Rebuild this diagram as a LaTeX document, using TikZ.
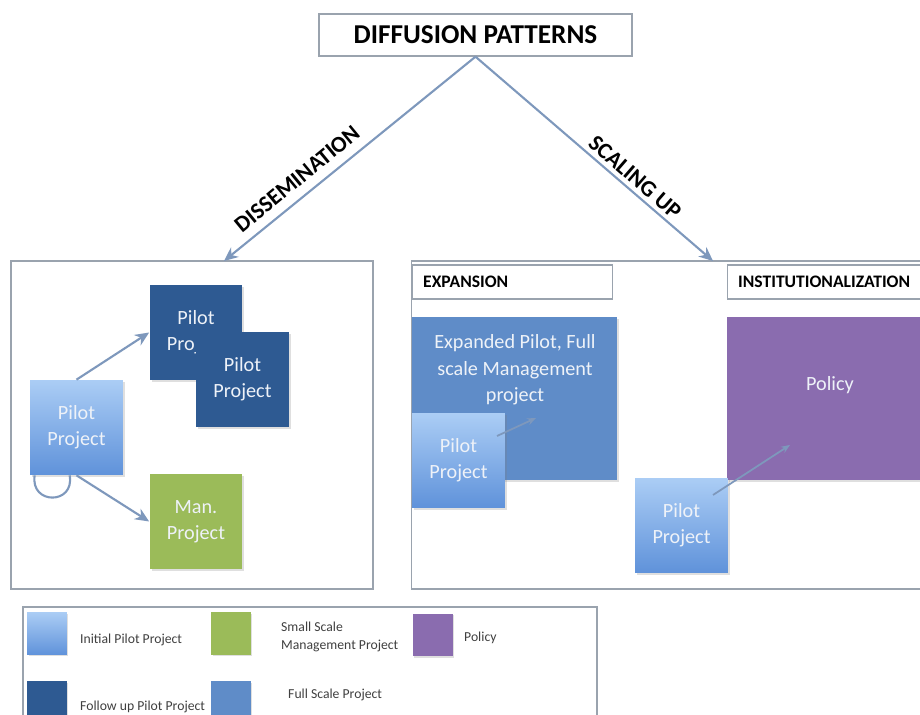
\documentclass[tikz,border=0pt]{standalone}
\usepackage{fontspec}
\setmainfont{Carlito}
\usetikzlibrary{arrows.meta,calc,shadows}

\definecolor{framegray}{HTML}{9AA3AE}
\definecolor{flowblue}{HTML}{7E98BC}
\definecolor{pilottop}{HTML}{ABCDF5}
\definecolor{pilotbot}{HTML}{5F92DA}
\definecolor{followup}{HTML}{2E5A92}
\definecolor{manage}{HTML}{9BBB59}
\definecolor{policy}{HTML}{8A6CAF}
\definecolor{fullscale}{HTML}{5F8CC8}
\definecolor{boxtext}{HTML}{EEF2F8}

\begin{document}
\begin{tikzpicture}[x=0.02cm,y=-0.02cm,
  frame/.style={draw=framegray,line width=0.8pt,fill=white},
  flow/.style={draw=flowblue,line width=1.2pt,-{Stealth[length=8pt,width=7pt]}},
  small flow/.style={draw=flowblue,line width=1pt,-{Stealth[length=5pt,width=4pt]}},
  block/.style={minimum width=1.86cm,minimum height=1.9cm,inner sep=0pt,align=center,
    text=boxtext,font=\fontsize{11.5}{15}\selectfont,
    drop shadow={shadow xshift=0.04cm,shadow yshift=-0.04cm,opacity=0.25}},
  initial/.style={block,top color=pilottop,bottom color=pilotbot},
  heading/.style={font=\bfseries\fontsize{10}{12}\selectfont,anchor=west},
  swatch/.style={minimum width=0.8cm,minimum height=0.86cm,inner sep=0pt,
    drop shadow={shadow xshift=0.03cm,shadow yshift=-0.03cm,opacity=0.25}},
  legtext/.style={font=\fontsize{7.8}{10.5}\selectfont,anchor=west,align=left,text=black!75},
  branch/.style={font=\bfseries\fontsize{13}{15}\selectfont,inner sep=0pt}]
\useasboundingbox (0,0) rectangle (920,715);
\clip (0,0) rectangle (920,715);

% top of the tree
\node[frame,minimum width=6.26cm,minimum height=0.84cm,font=\bfseries\fontsize{15.5}{17}\selectfont] (title) at (475.5,35) {DIFFUSION PATTERNS};

% the two panels
\node[frame,minimum width=7.24cm,minimum height=6.56cm] (dissbox) at (192,425) {};
\node[frame,minimum width=10.4cm,minimum height=6.56cm,anchor=west] (scalebox) at (411,425) {};
\coordinate (dissin) at (224,261);
\coordinate (scalein) at (713,261);

\draw[flow] (title.south) -- (dissin);
\draw[flow] (title.south) -- (scalein);
\node[branch,rotate=39.5] (disslabel) at (297,179) {DISSEMINATION};
\node[branch,rotate=-41] (scalelabel) at (635,177) {SCALING UP};

% dissemination
\node[block,fill=followup] (follow1) at (196,332.5) {Pilot\\Project};
\node[block,fill=followup] (follow2) at (242.5,379.5) {Pilot\\Project};
\node[block,fill=manage] (manproj) at (196,521.5) {Man.\\Project};
\node[initial] (pilot0) at (76.5,427.5) {Pilot\\Project};
\draw[flow] (pilot0.north) -- (follow1.west);
\draw[flow] (pilot0.south) -- (manproj.west);
\draw[draw=flowblue,line width=1.2pt] ($(pilot0.south west)+(5,0)$) .. controls (30,505) and (75,505) .. ($(pilot0.south west)+(40,0)$);

% scaling up: expansion
\node[frame,minimum width=4cm,minimum height=0.68cm,anchor=west] (expbox) at (412,282) {};
\node[heading] (exptext) at (417,282) {EXPANSION};
\node[fill=fullscale,minimum width=4.1cm,minimum height=3.26cm,inner sep=0pt,
  drop shadow={shadow xshift=0.04cm,shadow yshift=-0.04cm,opacity=0.25}] (fullbox) at (514.5,398.5) {};
\node[text=boxtext,align=center,font=\fontsize{11.5}{15}\selectfont] (fulltext) at (515,370) {Expanded Pilot, Full\\scale Management\\project};
\node[initial] (pilotA) at (458.5,460.5) {Pilot\\Project};
\coordinate (expA) at (497,436);
\coordinate (expB) at (536,418);
\draw[small flow] (expA) -- (expB);

% scaling up: institutionalization
\node[frame,minimum width=4.3cm,minimum height=0.68cm,anchor=west] (instbox) at (727,282) {};
\node[heading] (insttext) at (732,282) {INSTITUTIONALIZATION};
\node[fill=policy,minimum width=4.3cm,minimum height=3.26cm,inner sep=0pt,anchor=west,
  drop shadow={shadow xshift=0.04cm,shadow yshift=-0.04cm,opacity=0.25}] (policybox) at (727,398.5) {};
\node[text=boxtext,font=\fontsize{11.5}{15}\selectfont] (policytext) at (830,385) {Policy};
\node[initial] (pilotB) at (681.5,525.5) {Pilot\\Project};
\coordinate (instA) at (713,495);
\coordinate (instB) at (790,445);
\draw[small flow] (instA) -- (instB);

% legend
\node[frame,minimum width=11.48cm,minimum height=2.46cm] (legend) at (310,668.5) {};
\node[swatch,top color=pilottop,bottom color=pilotbot] (sw1) at (47,633.5) {};
\node[legtext] (lt1) at (74,640) {Initial Pilot Project};
\node[swatch,fill=manage] (sw2) at (231,633.5) {};
\node[legtext] (lt2) at (275,637) {Small Scale\\Management Project};
\node[swatch,fill=policy] (sw3) at (432.5,635) {};
\node[legtext] (lt3) at (458,638) {Policy};
\node[swatch,fill=followup] (sw4) at (47,702.5) {};
\node[legtext] (lt4) at (74,707) {Follow up Pilot Project};
\node[swatch,fill=fullscale] (sw5) at (231,702.5) {};
\node[legtext] (lt5) at (282,695) {Full Scale Project};
\end{tikzpicture}
\end{document}
